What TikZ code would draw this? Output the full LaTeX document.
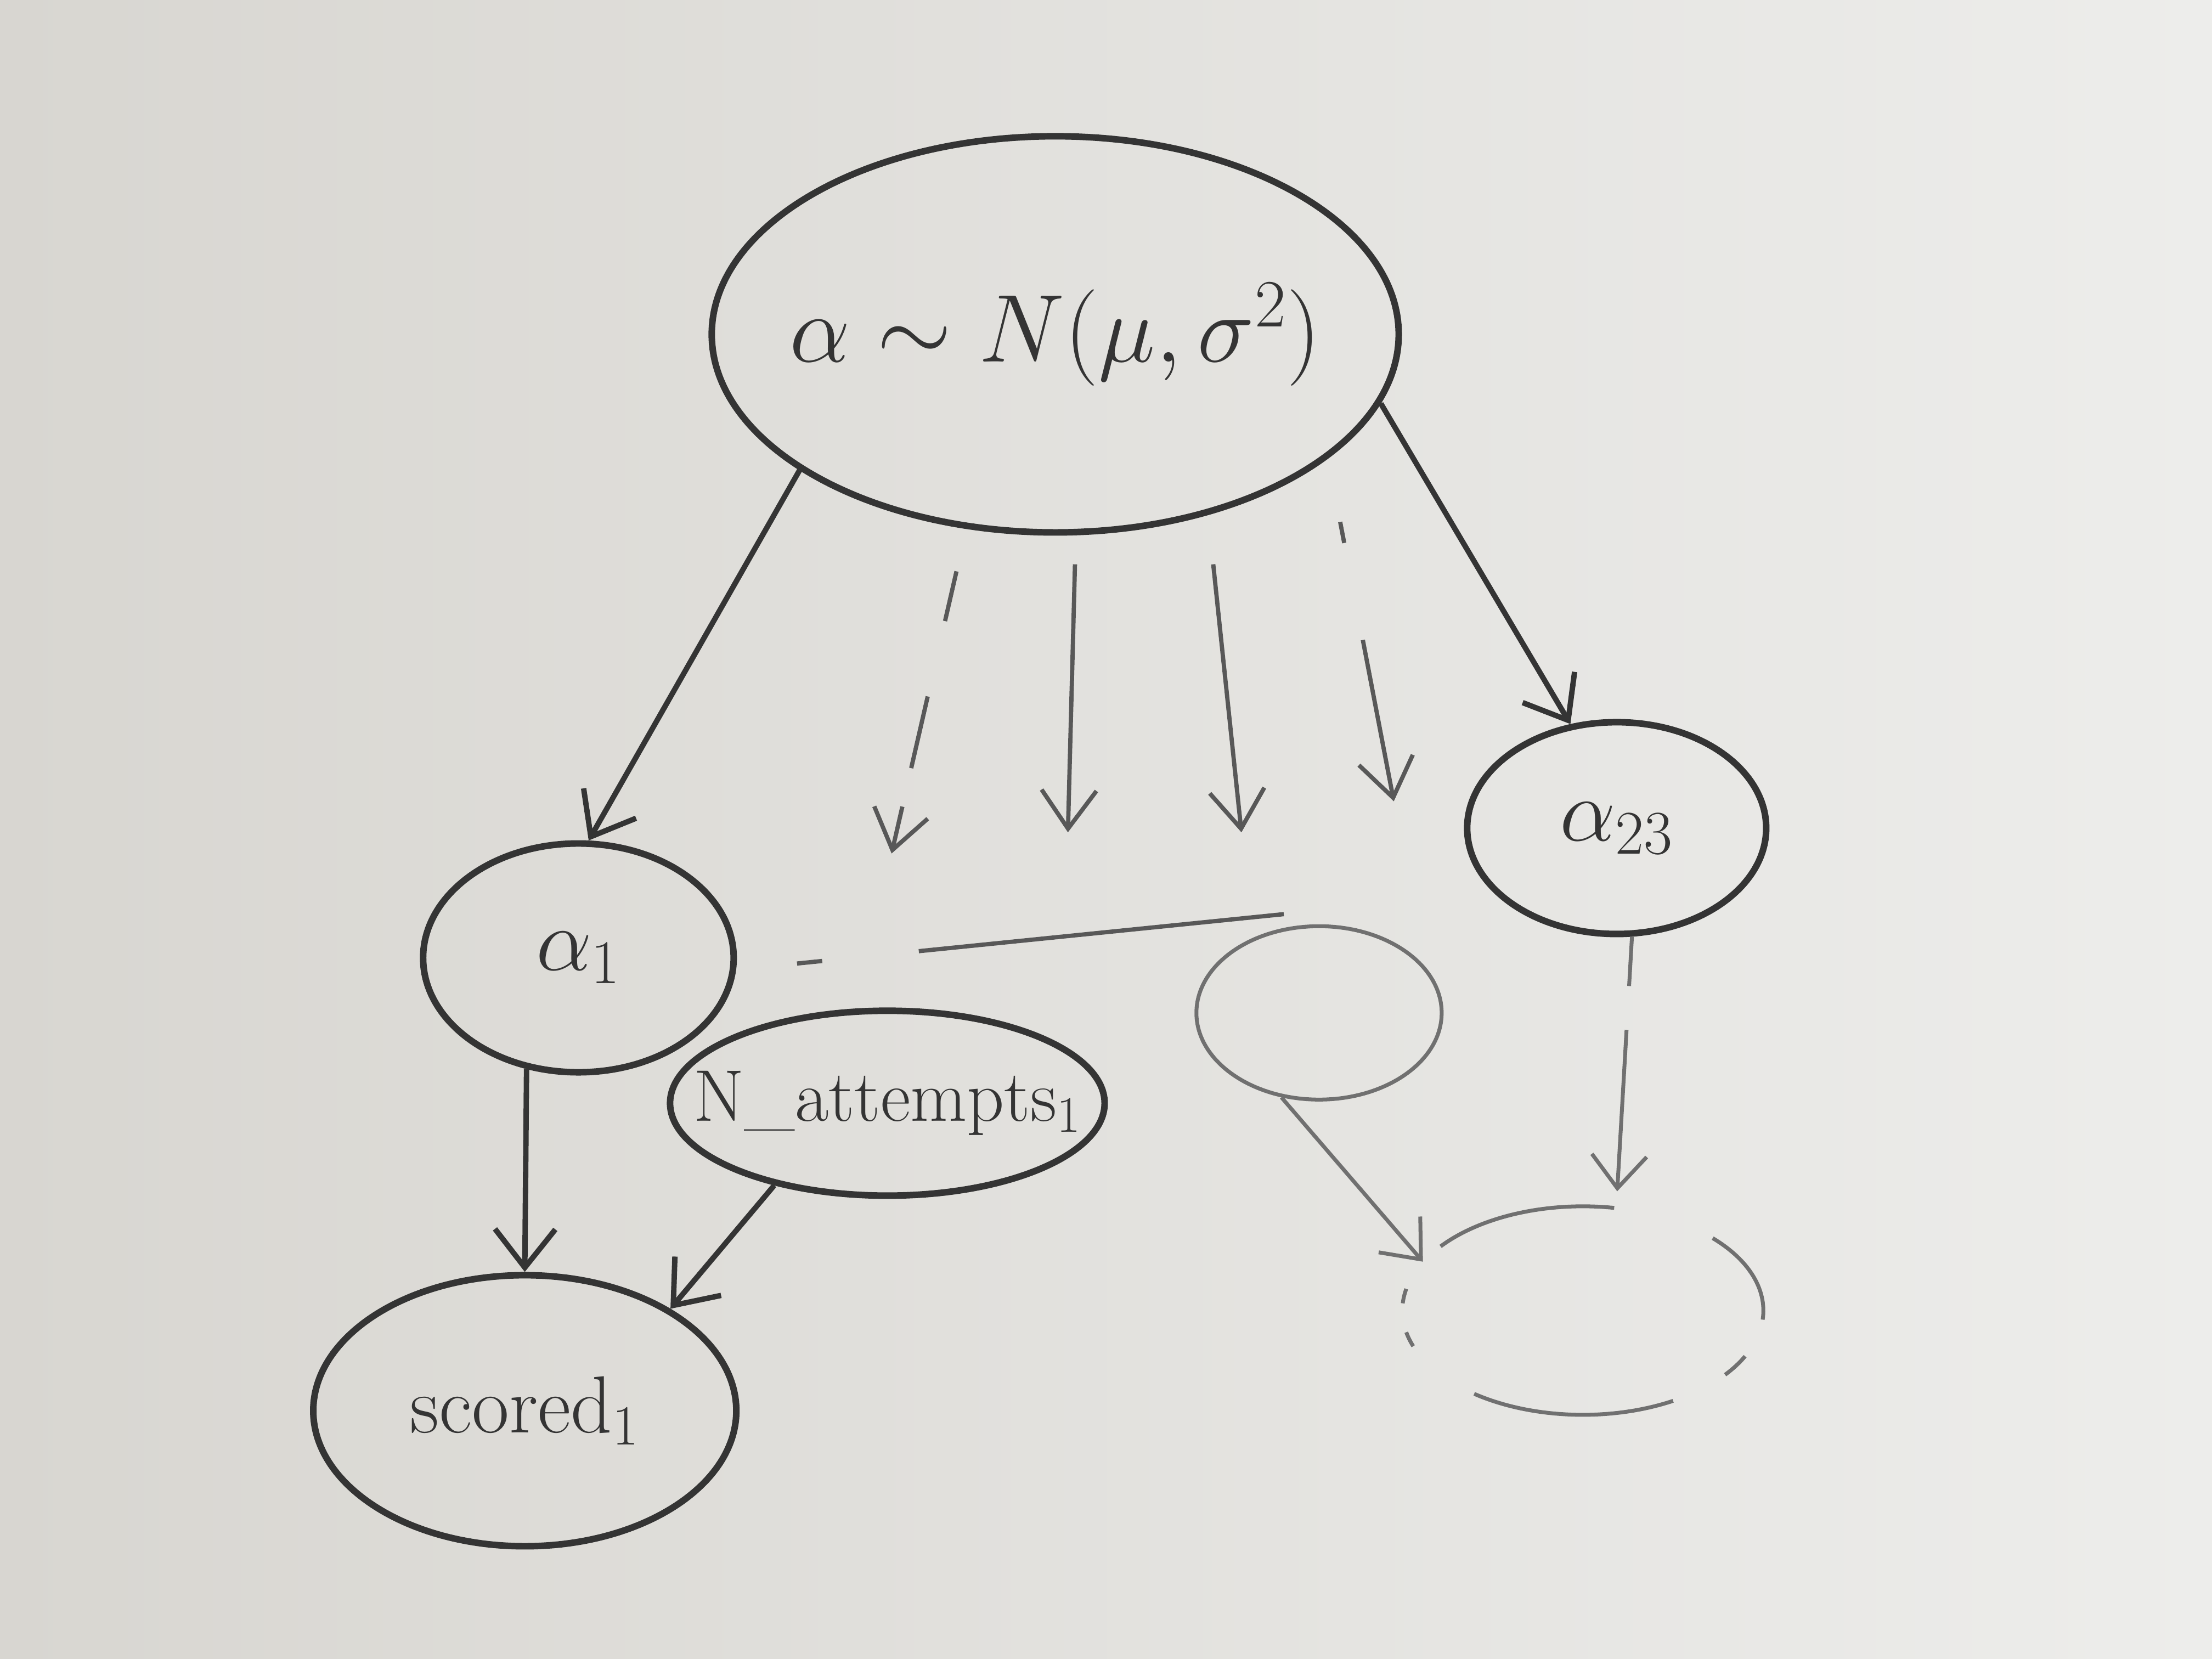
\RequirePackage{fix-cm}
\documentclass[tikz,border=0pt]{standalone}
\usetikzlibrary{shapes.geometric,arrows.meta,calc}
\definecolor{inkc}{RGB}{52,52,52}
\definecolor{midc}{RGB}{88,88,88}
\definecolor{faintc}{RGB}{112,112,112}
\definecolor{paperL}{RGB}{216,214,209}
\definecolor{paperR}{RGB}{237,237,235}
\tikzset{
  nodebox/.style={ellipse, draw=inkc, line width=3.4pt, inner sep=0pt, text=inkc},
  faintbox/.style={ellipse, draw=faintc, line width=2pt, inner sep=0pt},
  arr/.style={draw=inkc, line width=2.8pt, -{Straight Barb[length=7mm,width=11mm]}},
  midarr/.style={draw=midc, line width=2.2pt, -{Straight Barb[length=7mm,width=10mm]}},
  faintarr/.style={draw=faintc, line width=2pt, -{Straight Barb[length=6mm,width=10mm]}},
  faintline/.style={draw=faintc, line width=2pt},
}
\newcommand{\zw}[1]{\makebox[0pt]{#1}}
\begin{document}
\begin{tikzpicture}[x=0.02571cm,y=-0.02571cm]
\shade[left color=paperL, right color=paperR] (0,0) rectangle (1568,1176);
\useasboundingbox (0,0) rectangle (1568,1176);

% nodes
\node[nodebox, minimum width=12.52cm, minimum height=7.22cm, font=\fontsize{50}{60}\selectfont] (top) at (748,237) {\zw{$\alpha \sim N(\mu,\sigma^2)$}};
\node[nodebox, minimum width=5.66cm, minimum height=4.17cm, font=\fontsize{46}{54}\selectfont] (a1) at (410,679) {\zw{$\alpha_1$}};
\node[nodebox, minimum width=5.45cm, minimum height=3.86cm, font=\fontsize{46}{54}\selectfont] (a23) at (1146,587) {\zw{$\alpha_{23}$}};
\node[nodebox, minimum width=7.92cm, minimum height=3.37cm, font=\fontsize{38}{44}\selectfont] (natt) at (629,782) {\zw{N\_attempts$_1$}};
\node[nodebox, minimum width=7.71cm, minimum height=4.94cm, font=\fontsize{42}{50}\selectfont] (scored) at (372,1000) {\zw{scored$_1$}};
\node[faintbox, minimum width=4.47cm, minimum height=3.16cm] (f1) at (935,718) {};
\node[ellipse, inner sep=0pt, minimum width=6.58cm, minimum height=3.8cm] (f2) at (1122,929) {};

% broken outline of the last node
\foreach \s/\e in {-5/44, 80/142, 168/176, 192/200, 233/300, 322/334}{
  \draw[faintline] ($(f2.center)+(\s:3.29cm and 1.9cm)$) arc[start angle=\s, end angle=\e, x radius=3.29cm, y radius=1.9cm];
}

% free ends of the fan of dashed arrows
\coordinate (d1s) at (678,405); \coordinate (d1e) at (632,605);
\coordinate (d2s) at (762,400); \coordinate (d2e) at (757,590);
\coordinate (d3s) at (860,400); \coordinate (d3e) at (880,590);
\coordinate (d4s) at (950,370); \coordinate (d4e) at (988,568);
\coordinate (hs) at (565,683); \coordinate (he) at (910,648);

% connectors
\draw[arr] (top.208) -- (a1.85);
\draw[arr] (top.348) -- (a23.114);
\draw[arr] (a1.245) -- (scored.90);
\draw[arr] (natt.216) -- (scored.35);

\draw[midarr, dash pattern=on 0.93cm off 1.41cm on 1.34cm off 0.72cm on 4cm off 0cm] (d1s) -- (d1e);
\draw[midarr] (d2s) -- (d2e);
\draw[midarr] (d3s) -- (d3e);
\draw[midarr, dash pattern=on 0.39cm off 1.8cm on 5cm off 0cm] (d4s) -- (d4e);
\draw[midc, line width=2.2pt, dash pattern=on 0.46cm off 1.77cm on 8cm off 0cm] (hs) -- (he);

\draw[faintarr] (f1.246) -- (f2.163);
\draw[faintarr, dash pattern=on 0.9cm off 0.8cm on 5cm off 0cm, shorten >=0.3cm] (a23.278) -- (f2.72);
\end{tikzpicture}
\end{document}
